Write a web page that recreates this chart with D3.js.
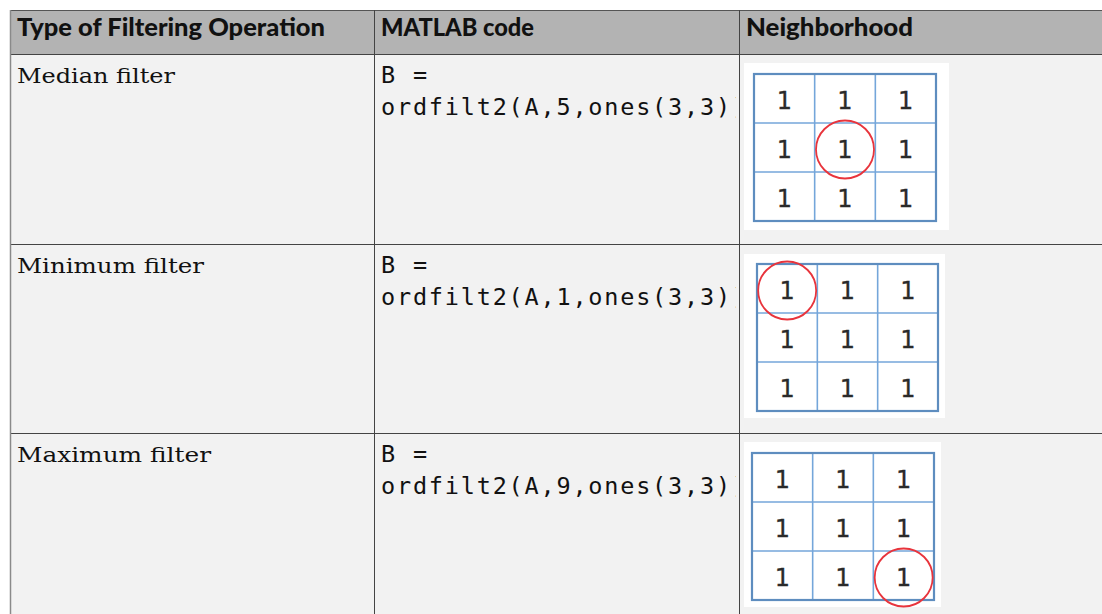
<!DOCTYPE html>
<html>
<head>
<meta charset="utf-8">
<script src="https://cdn.jsdelivr.net/npm/d3@7"></script>
<style>
  html, body { margin: 0; padding: 0; background: #ffffff; }
  svg { display: block; }
</style>
</head>
<body>
<svg id="chart" width="1102" height="614"></svg>
<script>
// ---- data ----
const headers = ["Type of Filtering Operation", "MATLAB code", "Neighborhood"];
const filterTypes = ["Median filter", "Minimum filter", "Maximum filter"];
const codeFirstLines = ["B =", "B =", "B ="];
const codeSecondLines = ["ordfilt2(A,5,ones(3,3))", "ordfilt2(A,1,ones(3,3))", "ordfilt2(A,9,ones(3,3))"];
const orders = [5, 1, 9];
const neighborhood = [[1, 1, 1], [1, 1, 1], [1, 1, 1]];

// ---- layout ----
const W = 1102, H = 614;
const colEdges = [10, 374, 739, 1102];
const rowEdges = [10, 54, 244, 433, 614];
const headerWidths = [308, 153, 167];
const nameWidths = [158, 187, 194];
const imgBoxes = [
  { bx: 744, by: 63, bw: 205, bh: 167, gx: 754, gy: 74, gw: 182, gh: 147 },
  { bx: 744, by: 254, bw: 201, bh: 164, gx: 757, gy: 264, gw: 181, gh: 147 },
  { bx: 744, by: 442, bw: 197, bh: 165, gx: 752, gy: 453, gw: 182, gh: 147 }
];

const svg = d3.select("#chart");
const defs = svg.append("defs");

// backgrounds
svg.append("rect").attr("x", colEdges[0]).attr("y", rowEdges[0])
  .attr("width", W - colEdges[0]).attr("height", rowEdges[1] - rowEdges[0])
  .attr("fill", "#b3b3b3");
svg.append("rect").attr("x", colEdges[0]).attr("y", rowEdges[1])
  .attr("width", W - colEdges[0]).attr("height", H - rowEdges[1])
  .attr("fill", "#f2f2f2");

// header texts
svg.selectAll("text.hdr").data(headers).join("text")
  .attr("class", "hdr")
  .attr("x", (d, i) => colEdges[i] + 7)
  .attr("y", 36)
  .attr("font-family", "Lato, 'Open Sans', sans-serif")
  .attr("font-weight", 900)
  .attr("font-size", 24.5)
  .attr("fill", "#111")
  .attr("textLength", (d, i) => headerWidths[i])
  .attr("lengthAdjust", "spacingAndGlyphs")
  .text(d => d);

// body rows
const rows = filterTypes.map((name, i) => ({
  name, code1: codeFirstLines[i], code2: codeSecondLines[i], order: orders[i], i
}));

// clip for code column
defs.append("clipPath").attr("id", "codeclip")
  .append("rect").attr("x", colEdges[1]).attr("y", 0)
  .attr("width", colEdges[2] - colEdges[1] - 3).attr("height", H);

rows.forEach(r => {
  const top = rowEdges[r.i + 1];
  svg.append("text")
    .attr("x", colEdges[0] + 7).attr("y", top + 29)
    .attr("font-family", "'DejaVu Serif', 'Liberation Serif', serif")
    .attr("font-size", 20.5)
    .attr("fill", "#111")
    .attr("textLength", nameWidths[r.i])
    .attr("lengthAdjust", "spacingAndGlyphs")
    .text(r.name);

  const g = svg.append("g").attr("clip-path", "url(#codeclip)");
  [r.code1, r.code2].forEach((line, k) => {
    g.append("text")
      .attr("x", colEdges[1] + 7).attr("y", top + 29 + k * 32)
      .attr("font-family", "'DejaVu Sans Mono', monospace")
      .attr("font-size", 23.5)
      .attr("letter-spacing", 1.8)
      .attr("fill", "#111")
      .attr("xml:space", "preserve")
      .text(line);
  });

  // neighborhood image
  const b = imgBoxes[r.i];
  const ng = svg.append("g");
  ng.append("rect").attr("x", b.bx).attr("y", b.by).attr("width", b.bw).attr("height", b.bh)
    .attr("fill", "#ffffff");
  const xs = d3.scaleBand().domain(d3.range(3)).range([b.gx, b.gx + b.gw]);
  const ys = d3.scaleBand().domain(d3.range(3)).range([b.gy, b.gy + b.gh]);
  [1, 2].forEach(k => {
    ng.append("line").attr("x1", xs(k)).attr("x2", xs(k))
      .attr("y1", b.gy).attr("y2", b.gy + b.gh)
      .attr("stroke", "#74a6da").attr("stroke-width", 1.6);
    ng.append("line").attr("y1", ys(k)).attr("y2", ys(k))
      .attr("x1", b.gx).attr("x2", b.gx + b.gw)
      .attr("stroke", "#74a6da").attr("stroke-width", 1.6);
  });
  ng.append("rect").attr("x", b.gx).attr("y", b.gy).attr("width", b.gw).attr("height", b.gh)
    .attr("fill", "none").attr("stroke", "#5e8dbf").attr("stroke-width", 2.2);
  const cells = [];
  neighborhood.forEach((rowVals, ri) => rowVals.forEach((v, ci) => cells.push({ v, ri, ci })));
  ng.selectAll("text.cell").data(cells).join("text")
    .attr("class", "cell")
    .attr("x", d => xs(d.ci) + xs.bandwidth() / 2)
    .attr("y", d => ys(d.ri) + ys.bandwidth() / 2 + 10)
    .attr("text-anchor", "middle")
    .attr("font-family", "'DejaVu Sans', sans-serif")
    .attr("font-size", 24)
    .attr("fill", "#2a2a2a")
    .attr("stroke", "#2a2a2a").attr("stroke-width", 0.3)
    .text(d => d.v);
  // red circle around the order-th element (column-major like MATLAB)
  const idx = r.order - 1;
  const cr = idx % 3, cc = Math.floor(idx / 3);
  ng.append("ellipse")
    .attr("cx", xs(cc) + xs.bandwidth() / 2)
    .attr("cy", ys(cr) + ys.bandwidth() / 2 + 2)
    .attr("rx", 29).attr("ry", 29)
    .attr("fill", "none").attr("stroke", "#e8343c").attr("stroke-width", 1.8);
});

// borders
const border = svg.append("g");
border.append("line").attr("x1", colEdges[0]).attr("x2", W).attr("y1", rowEdges[0] + 0.5).attr("y2", rowEdges[0] + 0.5)
  .attr("stroke", "#555").attr("stroke-width", 1);
border.selectAll("line.h").data(rowEdges.slice(1, 4)).join("line")
  .attr("class", "h")
  .attr("x1", colEdges[0]).attr("x2", W)
  .attr("y1", d => d + 0.5).attr("y2", d => d + 0.5)
  .attr("stroke", "#444").attr("stroke-width", 1);
border.selectAll("line.v").data(colEdges.slice(1, 3)).join("line")
  .attr("class", "v")
  .attr("x1", d => d + 0.5).attr("x2", d => d + 0.5)
  .attr("y1", rowEdges[0]).attr("y2", H)
  .attr("stroke", "#444").attr("stroke-width", 1);
border.append("line").attr("x1", colEdges[0] + 0.5).attr("x2", colEdges[0] + 0.5)
  .attr("y1", rowEdges[0]).attr("y2", H)
  .attr("stroke", "#8a8a8a").attr("stroke-width", 1.5);
</script>
</body>
</html>
